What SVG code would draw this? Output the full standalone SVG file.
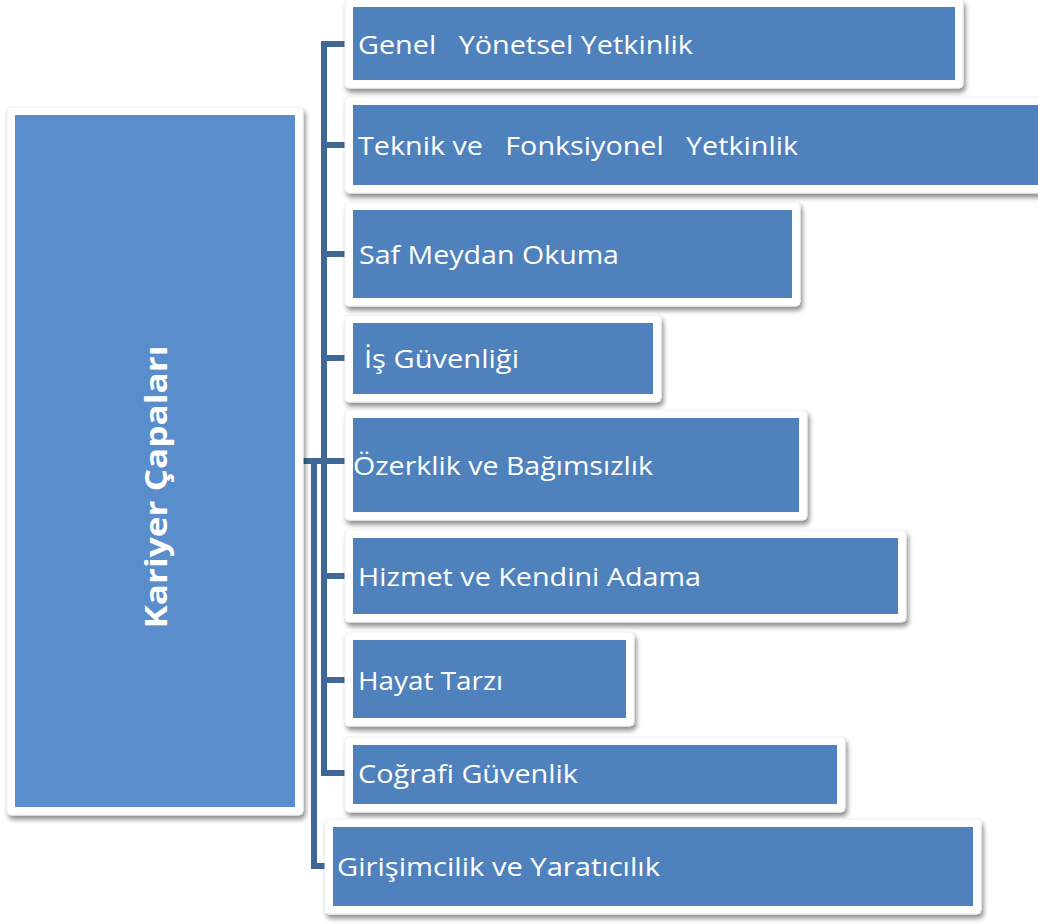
<svg xmlns="http://www.w3.org/2000/svg" width="1038" height="924" viewBox="0 0 1038 924">
<defs>
<filter id="sh" x="-5%" y="-10%" width="115%" height="130%">
<feGaussianBlur in="SourceAlpha" stdDeviation="2.5"/>
<feOffset dx="2" dy="4" result="b"/>
<feComponentTransfer><feFuncA type="linear" slope="0.45"/></feComponentTransfer>
<feMerge><feMergeNode/><feMergeNode in="SourceGraphic"/></feMerge>
</filter>
</defs>
<style>
.frame{fill:#ffffff;stroke:#f0f0f0;stroke-width:1;filter:url(#sh)}
.box{fill:#4F81BD}
.main{fill:#5A8DCB}
.t{font-family:"Open Sans","Noto Sans",sans-serif;font-size:26px;fill:#ffffff;dominant-baseline:central;white-space:pre}
.tm{font-family:"Open Sans","Noto Sans",sans-serif;font-size:31px;font-weight:bold;fill:#ffffff;dominant-baseline:central}
.c{fill:none;stroke:#3F6798;stroke-width:6}
</style>
<rect width="1038" height="924" fill="#ffffff"/>
<g id="connectors">
<path class="c" d="M346 44 H324 V773 H346"/>
<path class="c" d="M324 145 H346 M324 254 H346 M324 358 H346 M324 576 H346 M324 680 H346"/>
<path class="c" d="M303 461 H346"/>
<path class="c" d="M314 461 V866 H330"/>
</g>
<g id="main">
<rect class="frame" x="7" y="107" width="296" height="708" rx="4"/>
<rect class="main" x="15" y="115" width="280" height="692"/>
<text class="tm" transform="translate(155 487) rotate(-90)" text-anchor="middle" textLength="283" lengthAdjust="spacingAndGlyphs">Kariyer Çapaları</text>
</g>
<g id="n1">
<rect class="frame" x="345" y="-1" width="618" height="89" rx="4"/>
<rect class="box" x="353" y="7" width="602" height="73"/>
<text class="t" x="358" y="44" textLength="335" lengthAdjust="spacingAndGlyphs">Genel   Yönetsel Yetkinlik</text>
</g>
<g id="n2">
<rect class="frame" x="345" y="97" width="700" height="96" rx="4"/>
<rect class="box" x="353" y="105" width="685" height="80"/>
<text class="t" x="358" y="145" textLength="440" lengthAdjust="spacingAndGlyphs">Teknik ve   Fonksiyonel   Yetkinlik</text>
</g>
<g id="n3">
<rect class="frame" x="345" y="202" width="455" height="104" rx="4"/>
<rect class="box" x="353" y="210" width="439" height="88"/>
<text class="t" x="359" y="254" textLength="260" lengthAdjust="spacingAndGlyphs">Saf Meydan Okuma</text>
</g>
<g id="n4">
<rect class="frame" x="345" y="315" width="316" height="87" rx="4"/>
<rect class="box" x="353" y="323" width="300" height="71"/>
<text class="t" x="364" y="358" textLength="155" lengthAdjust="spacingAndGlyphs">İş Güvenliği</text>
</g>
<g id="n5">
<rect class="frame" x="345" y="410" width="462" height="110" rx="4"/>
<rect class="box" x="353" y="418" width="446" height="94"/>
<text class="t" x="353" y="465" textLength="300" lengthAdjust="spacingAndGlyphs">Özerklik ve Bağımsızlık</text>
</g>
<g id="n6">
<rect class="frame" x="345" y="530" width="561" height="92" rx="4"/>
<rect class="box" x="353" y="538" width="545" height="76"/>
<text class="t" x="358" y="576" textLength="343" lengthAdjust="spacingAndGlyphs">Hizmet ve Kendini Adama</text>
</g>
<g id="n7">
<rect class="frame" x="345" y="632" width="289" height="94" rx="4"/>
<rect class="box" x="353" y="640" width="273" height="78"/>
<text class="t" x="358" y="680" textLength="145" lengthAdjust="spacingAndGlyphs">Hayat Tarzı</text>
</g>
<g id="n8">
<rect class="frame" x="345" y="737" width="500" height="75" rx="4"/>
<rect class="box" x="353" y="745" width="484" height="59"/>
<text class="t" x="358" y="773" textLength="220" lengthAdjust="spacingAndGlyphs">Coğrafi Güvenlik</text>
</g>
<g id="n9">
<rect class="frame" x="325" y="819" width="656" height="95" rx="4"/>
<rect class="box" x="333" y="827" width="640" height="79"/>
<text class="t" x="337" y="866" textLength="323" lengthAdjust="spacingAndGlyphs">Girişimcilik ve Yaratıcılık</text>
</g>
</svg>
